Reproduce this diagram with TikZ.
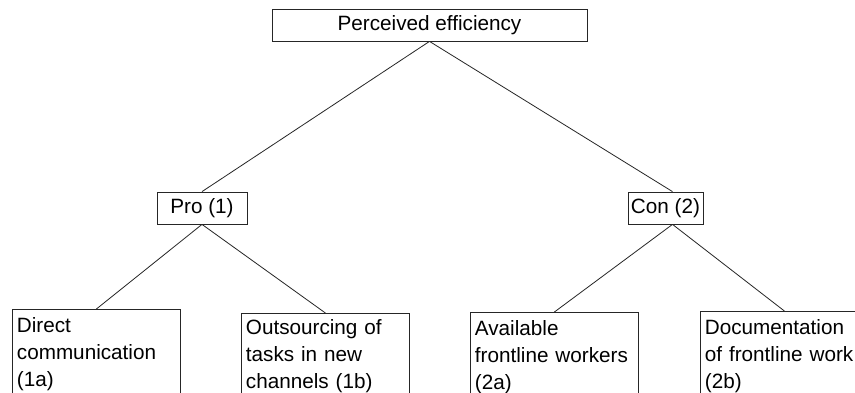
\documentclass[tikz,border=0pt]{standalone}
\usepackage{fontspec}
\setmainfont{Liberation Sans}
\begin{document}
\begin{tikzpicture}[x=1pt,y=-1pt,
  every node/.style={font=\fontsize{20.7}{27}\selectfont},
  box/.style={draw=black!85,line width=0.8pt,rectangle,inner sep=0pt,align=center},
  leafbox/.style={draw=black!85,line width=0.8pt,rectangle,anchor=north west,
    text width=159pt,align=left,inner xsep=4.5pt,inner ysep=8pt},
  link/.style={draw=black!85,line width=0.8pt}]
  \useasboundingbox (0,0) rectangle (855,393);
  \clip (0,0) rectangle (855,393);
  \fill[white] (0,0) rectangle (855,393);

  % root and the two branches
  \node[box,minimum width=315pt,minimum height=32pt] (top) at (429.5,25) {Perceived efficiency};
  \node[box,minimum width=90pt,minimum height=32pt] (pro) at (202,208) {Pro (1)};
  \node[box,minimum width=75pt,minimum height=32pt] (con) at (665.5,208) {Con (2)};

  % leaves
  \node[leafbox] (b1a) at (12,309) {Direct\\communication\\(1a)};
  \node[leafbox,inner ysep=6pt] (b1b) at (241,313) {Outsourcing of\\tasks in new\\channels (1b)};
  \node[leafbox] (b2a) at (470,312) {Available\\frontline workers\\(2a)};
  \node[leafbox] (b2b) at (700,311) {Documentation\\of frontline work\\(2b)};

  % connectors
  \draw[link] (top.south) -- (pro.north);
  \draw[link] (top.south) -- ([xshift=7pt]con.north);
  \draw[link] (pro.south) -- (b1a.north);
  \draw[link] (pro.south) -- (b1b.north);
  \draw[link] ([xshift=7pt]con.south) -- (b2a.north);
  \draw[link] ([xshift=7pt]con.south) -- (b2b.north);
\end{tikzpicture}
\end{document}
